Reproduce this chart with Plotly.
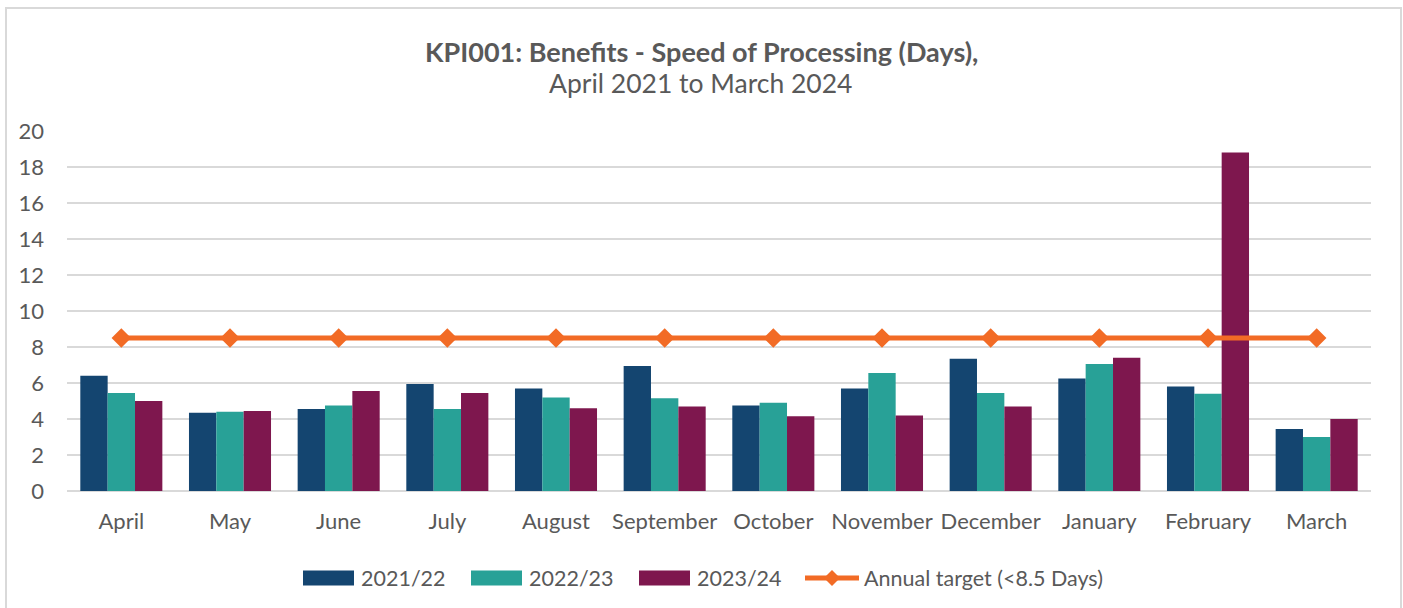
import plotly.graph_objects as go

months = ["April", "May", "June", "July", "August", "September", "October",
          "November", "December", "January", "February", "March"]
fy_2021_22 = [6.4, 4.35, 4.55, 5.95, 5.7, 6.95, 4.75, 5.7, 7.35, 6.25, 5.8, 3.45]
fy_2022_23 = [5.45, 4.4, 4.75, 4.55, 5.2, 5.15, 4.9, 6.55, 5.45, 7.05, 5.4, 3.0]
fy_2023_24 = [5.0, 4.45, 5.55, 5.45, 4.6, 4.7, 4.15, 4.2, 4.7, 7.4, 18.8, 4.0]
target = [8.5] * 12

series_names = ["2021/22", "2022/23", "2023/24"]
target_name = "Annual target (<8.5 Days)"
colors = ["#144570", "#28A197", "#7E174E"]
orange = "#F26B25"
text_color = "#595959"
grid_color = "#D9D9D9"
font_family = "Lato, 'Open Sans', sans-serif"

W, H = 1403, 608
L, R, T, B = 67, 32, 131, 117
plot_w = W - L - R
plot_h = H - T - B


def px_x(x):
    return (x - L) / plot_w


def px_y(y):
    return (H - B - y) / plot_h


fig = go.Figure()
for name, vals, col in zip(series_names, [fy_2021_22, fy_2022_23, fy_2023_24], colors):
    fig.add_trace(go.Bar(x=months, y=vals, name=name, marker_color=col,
                         marker_line_width=0))

fig.add_trace(go.Scatter(x=months, y=target, name=target_name, mode="lines+markers",
                         line=dict(color=orange, width=5),
                         marker=dict(symbol="diamond", size=15, color=orange)))

# Legend drawn as swatches and labels beneath the plot
leg_y = 578
leg_font = dict(size=21.5, color=text_color, family=font_family)
shapes = []
annotations = []
swatches = [(303, 354, 359), (471, 522, 527), (639, 690, 695)]
for (x0, x1, tx), name, col in zip(swatches, series_names, colors):
    shapes.append(dict(type="rect", xref="paper", yref="paper",
                       x0=px_x(x0), x1=px_x(x1), y0=px_y(leg_y + 7.5), y1=px_y(leg_y - 7.5),
                       fillcolor=col, line_width=0, layer="above"))
    annotations.append(dict(text=name, xref="paper", yref="paper", x=px_x(tx), y=px_y(leg_y),
                            xanchor="left", yanchor="middle", showarrow=False, font=leg_font))
shapes.append(dict(type="line", xref="paper", yref="paper",
                   x0=px_x(805), x1=px_x(859), y0=px_y(leg_y), y1=px_y(leg_y),
                   line=dict(color=orange, width=5)))
shapes.append(dict(type="path", xref="paper", yref="paper",
                   path="M {a},{b} L {c},{d} L {a},{e} L {f},{d} Z".format(
                       a=px_x(832), b=px_y(leg_y - 8), c=px_x(840), d=px_y(leg_y),
                       e=px_y(leg_y + 8), f=px_x(824)),
                   fillcolor=orange, line_width=0))
annotations.append(dict(text=target_name, xref="paper", yref="paper", x=px_x(862), y=px_y(leg_y),
                        xanchor="left", yanchor="middle", showarrow=False, font=leg_font))

# Title lines
annotations.append(dict(text="<b>KPI001: Benefits - Speed of Processing (Days),</b>",
                        xref="paper", yref="paper", x=px_x(701), y=px_y(52),
                        xanchor="center", yanchor="middle", showarrow=False,
                        font=dict(size=27, color=text_color, family=font_family)))
annotations.append(dict(text="April 2021 to March 2024",
                        xref="paper", yref="paper", x=px_x(700), y=px_y(83),
                        xanchor="center", yanchor="middle", showarrow=False,
                        font=dict(size=26.5, color=text_color, family=font_family)))

# Outer chart border
shapes.append(dict(type="rect", xref="paper", yref="paper",
                   x0=px_x(6), x1=px_x(1401), y0=px_y(620), y1=px_y(8),
                   line=dict(color=grid_color, width=2), fillcolor="rgba(0,0,0,0)"))

fig.update_layout(
    width=W, height=H,
    margin=dict(l=L, r=R, t=T, b=B, pad=0),
    paper_bgcolor="white", plot_bgcolor="white",
    barmode="group", bargap=0.245, bargroupgap=0,
    showlegend=False,
    font=dict(family=font_family, color=text_color, size=22),
    shapes=shapes, annotations=annotations,
    xaxis=dict(range=[-0.5, 11.5], showgrid=False, showline=False, ticks="",
               tickfont=dict(size=22), ticklabelstandoff=15),
    yaxis=dict(range=[0, 20], dtick=2, showgrid=True, gridcolor=grid_color, gridwidth=2,
               zeroline=True, zerolinecolor=grid_color, zerolinewidth=2,
               showline=False, ticks="", tickfont=dict(size=22), ticklabelstandoff=22),
)

fig.write_html("out.html")
